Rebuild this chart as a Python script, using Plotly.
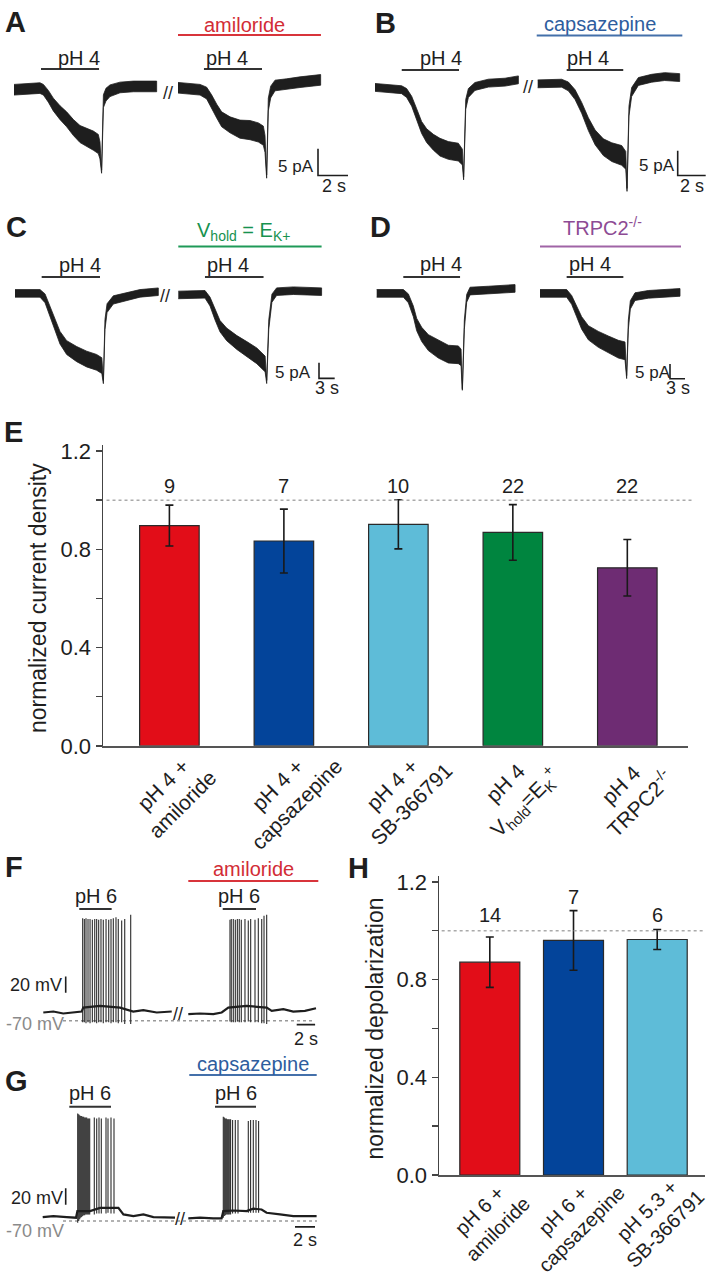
import plotly.graph_objects as go

W, H = 710, 1280
FONT = "Liberation Sans, Arial, Helvetica, sans-serif"
INK = "#1e1e1e"

# ================= bar chart data =================
E_LABELS = ["pH 4 +<br>amiloride", "pH 4 +<br>capsazepine", "pH 4 +<br>SB-366791",
            "pH 4<br>V<sub>hold</sub>=E<sub>K</sub><sup>+</sup>", "pH 4<br>TRPC2<sup>-/-</sup>"]
E_MEAN = [0.897, 0.834, 0.902, 0.869, 0.725]
E_SEM = [0.083, 0.130, 0.100, 0.113, 0.115]
E_N = ["9", "7", "10", "22", "22"]
E_COLORS = ["#e20d18", "#03449a", "#5ebcd8", "#00853f", "#6e2c73"]

H_LABELS = ["pH 6 +<br>amiloride", "pH 6 +<br>capsazepine", "pH 5.3 +<br>SB-366791"]
H_MEAN = [0.871, 0.960, 0.964]
H_SEM = [0.103, 0.122, 0.041]
H_N = ["14", "7", "6"]
H_N_Y = [1.064, 1.136, 1.064]
H_COLORS = ["#e20d18", "#03449a", "#5ebcd8"]

TICK_VALS = [0.0, 0.2, 0.4, 0.6, 0.8, 1.0, 1.2]
TICK_TEXT = ["0.0", "", "0.4", "", "0.8", "", "1.2"]

# ================= current traces (s, pA, noise half-width pA) =================
A1_T = [0, 1.73, 1.96, 2.29, 2.62, 3.07, 3.51, 3.96, 4.4, 4.84, 5.29, 5.62, 5.73, 5.84, 5.96, 6.13, 6.4, 7.07, 7.96, 9.51]
A1_I = [0, 0.31, 0, -1.23, -2.78, -4.32, -5.56, -7.1, -8.33, -8.95, -9.57, -10.2, -11.4, -15.4, -2.16, -0.93, -0.19, 0.43, 0.62, 0.62]
A1_N = [1.0, 1.0, 1.0, 1.1, 1.2, 1.3, 1.4, 1.5, 1.6, 1.7, 1.8, 1.8, 1.6, 0.3, 1.2, 1.2, 1.1, 1.0, 1.0, 1.0]
A2_T = [0, 1.47, 1.91, 2.24, 2.58, 2.91, 3.47, 4.13, 4.8, 5.36, 5.69, 5.8, 5.91, 6.02, 6.18, 6.47, 7.24, 8.13, 9.51]
A2_I = [0, -0.37, -0.99, -2.53, -4.38, -5.93, -6.97, -7.78, -7.96, -8.4, -9.01, -10.56, -16.7, -3.15, -0.8, 0.43, 0.68, 1.05, 1.48]
A2_N = [1.0, 1.0, 1.1, 1.2, 1.3, 1.4, 1.5, 1.7, 1.8, 1.8, 1.8, 1.6, 0.3, 1.2, 1.1, 1.0, 1.0, 1.0, 1.0]

B1_T = [0, 1.9, 2.26, 2.62, 2.98, 3.33, 3.69, 4.17, 4.64, 5.24, 5.95, 6.24, 6.33, 6.48, 6.67, 7.14, 8.1, 9.29, 10.24]
B1_I = [0.13, -0.33, -1.0, -2.67, -5.33, -8.0, -9.67, -11.0, -12.0, -12.67, -13.0, -14.0, -18.33, -3.33, -1.0, 0.33, 1.0, 1.2, 1.67]
B1_N = [0.8, 0.8, 0.9, 1.0, 1.1, 1.2, 1.4, 1.6, 1.8, 1.8, 1.8, 1.6, 0.3, 1.0, 0.9, 0.8, 0.8, 0.8, 0.8]
B2_T = [0, 1.71, 2.19, 2.67, 3.14, 3.62, 4.1, 4.69, 5.29, 6.0, 6.29, 6.38, 6.52, 6.71, 7.19, 8.14, 9.07, 10.14]
B2_I = [0, 0.13, -0.53, -2.2, -4.87, -8.2, -10.87, -12.87, -13.87, -14.53, -15.53, -21.53, -5.53, -1.67, 0.47, 1.13, 1.47, 1.27]
B2_N = [0.8, 0.8, 0.9, 1.0, 1.1, 1.3, 1.5, 1.7, 1.9, 2.0, 1.8, 0.3, 1.0, 0.9, 0.8, 0.8, 0.8, 0.8]

C1_T = [0, 4.78, 5.74, 6.69, 7.65, 8.6, 9.88, 11.8, 13.7, 15.6, 16.6, 16.9, 17.2, 17.6, 18.8, 21.4, 23.9, 27.4]
C1_I = [0, 0, -1.56, -5.73, -9.9, -14.06, -17.19, -19.27, -20.83, -21.88, -22.92, -28.13, -9.9, -4.69, -2.08, -1.04, 0, 0.52]
C1_N = [1.2, 1.2, 1.4, 1.6, 1.8, 2.0, 2.2, 2.4, 2.5, 2.5, 2.5, 0.5, 1.6, 1.4, 1.3, 1.2, 1.2, 1.2]
C2_T = [0, 5.1, 6.06, 7.01, 7.97, 9.24, 11.2, 13.1, 15.0, 16.6, 16.9, 17.3, 17.9, 18.8, 22.0, 27.4]
C2_I = [0, 0.21, -2.08, -6.25, -9.9, -12.5, -15.1, -17.2, -19.3, -21.9, -27.6, -9.4, -1.04, 1.04, 1.35, 1.04]
C2_N = [1.2, 1.2, 1.4, 1.6, 1.8, 2.0, 2.2, 2.4, 2.5, 2.5, 0.5, 1.5, 1.3, 1.2, 1.2, 1.2]

D1_T = [0, 5.33, 6.33, 7.33, 8.0, 9.0, 10.33, 12.33, 14.33, 16.33, 16.87, 17.13, 17.53, 18.0, 18.67, 22.33, 27.67]
D1_I = [0, 0, -1.67, -6.11, -10.56, -13.89, -16.67, -18.89, -20.56, -20.78, -21.67, -32.8, -10.56, -1.67, 0.78, 1.11, 1.67]
D1_N = [1.3, 1.3, 1.5, 1.8, 2.1, 2.4, 2.7, 3.0, 3.0, 3.0, 2.8, 0.5, 1.6, 1.3, 1.3, 1.3, 1.3]
D2_T = [0, 5.33, 6.33, 7.33, 8.33, 9.67, 11.67, 13.67, 15.67, 17.0, 17.33, 17.67, 18.07, 19.0, 21.67, 28.0]
D2_I = [0, 0, -2.22, -6.11, -10.0, -13.33, -15.56, -17.22, -18.89, -19.44, -28.33, -10.56, -3.89, -1.11, -0.33, 0.33]
D2_N = [1.3, 1.3, 1.5, 1.8, 2.1, 2.4, 2.7, 2.8, 3.0, 3.0, 0.5, 1.6, 1.4, 1.3, 1.3, 1.3]

# pH / drug application windows (s, per segment)
A_PH = [(1.8, 5.67), (1.73, 5.6)]
B_PH = [(1.91, 6.0), (2.07, 6.11)]
C_PH = [(5.1, 16.25), (5.1, 16.3)]
D_PH = [(5.32, 16.67), (5.33, 16.67)]
A_DRUG = (0.0, 9.53)
B_DRUG = (-0.07, 10.33)
C_DRUG = (0.0, 27.4)
D_DRUG = (0.0, 28.2)

# ================= voltage traces (s, mV) =================
F1_MT = [0, 1.09, 2.17, 3.26, 4.17, 4.35, 6.16, 8.34, 9.07, 9.78, 10.87, 12.33, 13.96]
F1_MV = [-60, -58.8, -61.2, -60, -58.8, -54, -52, -54, -56, -58.8, -57.2, -60, -58.8]
F1_SPK = [4.28, 4.46, 4.64, 4.86, 5.08, 5.33, 5.59, 5.8, 6.02, 6.27, 6.52, 6.82, 7.11, 7.36, 7.61, 7.9, 8.15, 8.52, 8.85, 9.5]
F1_PK = [55, 54, 55, 54, 54, 53, 54, 54, 53, 54, 53, 54, 53, 54, 55, 56, 54, 52, 54, 59]
F1_TR = [-72, -72, -73, -72, -73, -72, -72, -73, -72, -72, -73, -72, -72, -73, -72, -72, -73, -72, -74, -74]
F2_MT = [0, 1.27, 2.72, 3.63, 4.35, 6.35, 8.52, 9.07, 10.33, 11.41, 12.68, 13.88]
F2_MV = [-62, -61.2, -62, -60, -54, -52, -54, -58, -56, -58.8, -58, -54.8]
F2_SPK = [4.53, 4.67, 4.89, 5.11, 5.33, 5.54, 5.76, 6.16, 6.52, 6.78, 7.25, 7.61, 7.98, 8.23, 8.52]
F2_PK = [53, 54, 54, 53, 54, 54, 53, 54, 52, 54, 53, 55, 54, 58, 59]
F2_TR = [-71, -72, -72, -72, -71, -72, -72, -72, -71, -72, -72, -72, -73, -73, -74]

G1_MT = [0, 1.07, 2.4, 3.33, 3.47, 4.73, 5.73, 7.07, 7.57, 8.07, 9.07, 10.07, 11.07, 13.23]
G1_MV = [-65.2, -64, -65.2, -66, -58, -58, -54, -54, -54, -62, -64, -62, -65.2, -66]
G1_SPK = [3.5, 3.6, 3.7, 3.8, 3.9, 4.0, 4.1, 4.2, 4.3, 4.4, 4.5, 4.6, 4.7, 5.16, 5.4, 5.63, 5.86, 6.33, 6.53, 6.83, 7.13]
G1_PK = [61, 60, 59, 58, 58, 57, 57, 56, 56, 56, 55, 55, 55, 56, 55, 56, 55, 56, 55, 56, 55]
G1_TR = [-72, -70, -68, -66, -65, -64, -63, -63, -62, -62, -62, -62, -62, -62, -61, -61, -61, -61, -60, -61, -61]
G2_MT = [0, 1.17, 2.5, 3.33, 3.5, 4.5, 5.83, 6.5, 7.33, 7.83, 9.17, 10.5, 12.83]
G2_MV = [-66.8, -66, -66.8, -66.8, -58, -57.2, -58, -55, -56, -60, -62, -64, -64]
G2_SPK = [3.5, 3.6, 3.7, 3.8, 3.9, 4.0, 4.1, 4.23, 4.43, 4.7, 4.97, 6.0, 6.23, 6.5, 6.77, 7.03]
G2_PK = [57, 56, 55, 55, 54, 54, 54, 54, 53, 53, 53, 52, 53, 53, 53, 52]
G2_TR = [-66, -64, -63, -62, -62, -62, -62, -62, -61, -61, -61, -60, -60, -60, -60, -60]

F_PH = [(3.91, 7.43), (3.74, 7.36)]
G_PH = [(2.66, 6.83), (2.67, 6.77)]
F_DRUG = (0.0, 14.13)
G_DRUG = (0.1, 12.84)

# ================= layout geometry (pixels) =================
PANELS = {
    "A": dict(ax=3, box=(0, 355, 0, 195), origin=(14, 85), ppx=15.0, ppy=5.4, y0=0.0, seg2=(178, 83)),
    "B": dict(ax=4, box=(355, 710, 0, 195), origin=(375, 83.3), ppx=14.0, ppy=5.0, y0=0.0, seg2=(537.7, 79)),
    "C": dict(ax=5, box=(0, 355, 195, 390), origin=(15, 291.7), ppx=5.23, ppy=3.2, y0=0.0, seg2=(178.3, 293.3)),
    "D": dict(ax=6, box=(355, 710, 195, 390), origin=(376.7, 291.7), ppx=5.0, ppy=3.0, y0=0.0, seg2=(540, 291.7)),
    "F": dict(ax=7, box=(0, 355, 850, 1060), origin=(43.3, 1030), ppx=9.2, ppy=0.833, y0=-70.0, seg2=(188.3, None)),
    "G": dict(ax=8, box=(0, 355, 1060, 1280), origin=(42.7, 1233.3), ppx=10.0, ppy=0.833, y0=-70.0, seg2=(188.3, None)),
}

fig = go.Figure()
annotations = []
shapes = []
layout_axes = {}


def X(p, px):
    return (px - p["origin"][0]) / p["ppx"]


def Y(p, py):
    return p["y0"] + (p["origin"][1] - py) / p["ppy"]


def seg_offset(p, k):
    if k == 0:
        return 0.0, 0.0
    sx, sy = p["seg2"]
    return X(p, sx), (0.0 if sy is None else Y(p, sy) - p["y0"])


def txt(s, px, py, size, color=INK, bold=False, **kw):
    fam = "Liberation Sans, Arial, sans-serif"
    annotations.append(dict(text=("<b>%s</b>" % s) if bold else s, x=px / W, y=1 - py / H,
                            xref="paper", yref="paper", showarrow=False, xanchor="center",
                            yanchor="middle", font=dict(family=fam, size=size, color=color), **kw))


for name, p in PANELS.items():
    n = p["ax"]
    x0, x1, y0, y1 = p["box"]
    layout_axes["xaxis%d" % n] = dict(domain=[x0 / W, x1 / W], range=[X(p, x0), X(p, x1)],
                                      visible=False, anchor="y%d" % n, fixedrange=True)
    layout_axes["yaxis%d" % n] = dict(domain=[1 - y1 / H, 1 - y0 / H], range=[Y(p, y1), Y(p, y0)],
                                      visible=False, anchor="x%d" % n, fixedrange=True)


def axref(p):
    return dict(xaxis="x%d" % p["ax"], yaxis="y%d" % p["ax"])


def band(p, k, t, i, hw):
    dt, dy = seg_offset(p, k)
    xs = [v + dt for v in t] + [v + dt for v in t[::-1]]
    ys = [a + h + dy for a, h in zip(i, hw)] + [a - h + dy for a, h in zip(i[::-1], hw[::-1])]
    fig.add_trace(go.Scatter(x=xs, y=ys, mode="lines", fill="toself", fillcolor=INK,
                             line=dict(color=INK, width=0.8), hoverinfo="skip", **axref(p)))


def hline(p, k, t0, t1, py, color, width=2.0):
    dt, _ = seg_offset(p, k)
    yy = Y(p, py)
    fig.add_trace(go.Scatter(x=[t0 + dt, t1 + dt], y=[yy, yy], mode="lines",
                             line=dict(color=color, width=width), hoverinfo="skip", **axref(p)))


def scalebar(p, corner, dt_len, dy_len, width=1.6):
    cx, cy = X(p, corner[0]), Y(p, corner[1])
    fig.add_trace(go.Scatter(x=[cx, cx, cx + dt_len], y=[cy + dy_len, cy, cy], mode="lines",
                             line=dict(color=INK, width=width), hoverinfo="skip", **axref(p)))


def membrane(p, k, t, v):
    dt, _ = seg_offset(p, k)
    fig.add_trace(go.Scatter(x=[a + dt for a in t], y=v, mode="lines",
                             line=dict(color=INK, width=2.2), hoverinfo="skip", **axref(p)))


def spikes(p, k, ts, pk, tr):
    dt, _ = seg_offset(p, k)
    xs, ys = [], []
    for a, b, c in zip(ts, pk, tr):
        xs += [a + dt, a + dt, None]
        ys += [c, b, None]
    fig.add_trace(go.Scatter(x=xs, y=ys, mode="lines", line=dict(color="#2b2b2b", width=1.1),
                             hoverinfo="skip", connectgaps=False, **axref(p)))


# ---------------- current-clamp style panels A-D ----------------
RED_T, BLUE_T, GREEN_T, PURP_T = "#d22c35", "#2e5d9e", "#17924f", "#8d4b94"
RED_L, BLUE_L, GREEN_L, PURP_L = "#d8343b", "#4470aa", "#1f9a58", "#a064a6"

current_sets = [
    ("A", [(A1_T, A1_I, A1_N), (A2_T, A2_I, A2_N)], A_PH, A_DRUG, 64, 29.5, RED_L),
    ("B", [(B1_T, B1_I, B1_N), (B2_T, B2_I, B2_N)], B_PH, B_DRUG, 65, 30, BLUE_L),
    ("C", [(C1_T, C1_I, C1_N), (C2_T, C2_I, C2_N)], C_PH, C_DRUG, 275, 244, GREEN_L),
    ("D", [(D1_T, D1_I, D1_N), (D2_T, D2_I, D2_N)], D_PH, D_DRUG, 275, 244, PURP_L),
]
for name, segs, ph, drug, ph_py, drug_py, dcol in current_sets:
    p = PANELS[name]
    for k, (t, i, hw) in enumerate(segs):
        band(p, k, t, i, hw)
        hline(p, k, ph[k][0], ph[k][1], ph_py, "#333333", 2.0)
    hline(p, 1, drug[0], drug[1], drug_py, dcol, 2.0)

scalebar(PANELS["A"], (318, 172), 2.0, 5.0)
scalebar(PANELS["B"], (677.7, 172), 2.0, 5.0)
scalebar(PANELS["C"], (319, 378), 3.0, 5.0)
scalebar(PANELS["D"], (670, 378.3), 3.0, 5.0)

# ---------------- voltage panels F, G ----------------
volt_sets = [
    ("F", [(F1_MT, F1_MV, F1_SPK, F1_PK, F1_TR), (F2_MT, F2_MV, F2_SPK, F2_PK, F2_TR)], F_PH, F_DRUG,
     916.7, 888.3, RED_L, (63, 315), 65.7, 1001.7, (296.7, 1034)),
    ("G", [(G1_MT, G1_MV, G1_SPK, G1_PK, G1_TR), (G2_MT, G2_MV, G2_SPK, G2_PK, G2_TR)], G_PH, G_DRUG,
     1117.3, 1085, BLUE_L, (63, 317), 65.7, 1216.7, (295, 1239.3)),
]
for name, segs, ph, drug, ph_py, drug_py, dcol, dot_px, vb_px, vb_py, hb in volt_sets:
    p = PANELS[name]
    fig.add_trace(go.Scatter(x=[X(p, dot_px[0]), X(p, dot_px[1])], y=[-70, -70], mode="lines",
                             line=dict(color="#999999", width=1.5, dash="dot"), hoverinfo="skip", **axref(p)))
    for k, (mt, mv, st, pk, tr) in enumerate(segs):
        spikes(p, k, st, pk, tr)
        membrane(p, k, mt, mv)
        hline(p, k, ph[k][0], ph[k][1], ph_py, "#333333", 2.0)
    hline(p, 1, drug[0], drug[1], drug_py, dcol, 2.0)
    # 20 mV vertical bar
    vx, vy = X(p, vb_px), Y(p, vb_py)
    fig.add_trace(go.Scatter(x=[vx, vx], y=[vy, vy + 20], mode="lines",
                             line=dict(color=INK, width=1.6), hoverinfo="skip", **axref(p)))
    # 2 s horizontal bar
    hx, hy = X(p, hb[0]), Y(p, hb[1])
    fig.add_trace(go.Scatter(x=[hx, hx + 2.0], y=[hy, hy], mode="lines",
                             line=dict(color=INK, width=1.6), hoverinfo="skip", **axref(p)))

# ---------------- panel E and H bars ----------------
fig.add_trace(go.Bar(x=list(range(len(E_MEAN))), y=E_MEAN, width=0.52,
                     marker=dict(color=E_COLORS, line=dict(color="#2a2a2a", width=1.2)),
                     error_y=dict(type="data", array=E_SEM, visible=True, color="#1a1a1a",
                                  thickness=1.6, width=4),
                     xaxis="x", yaxis="y", hoverinfo="skip"))
fig.add_trace(go.Bar(x=list(range(len(H_MEAN))), y=H_MEAN, width=0.717,
                     marker=dict(color=H_COLORS, line=dict(color="#2a2a2a", width=1.2)),
                     error_y=dict(type="data", array=H_SEM, visible=True, color="#1a1a1a",
                                  thickness=1.6, width=4),
                     xaxis="x2", yaxis="y2", hoverinfo="skip"))

for i, s in enumerate(E_N):
    annotations.append(dict(text=s, x=i, y=1.06, xref="x", yref="y", showarrow=False,
                            xanchor="center", yanchor="middle",
                            font=dict(family=FONT, size=20, color=INK)))
for i, s in enumerate(H_N):
    annotations.append(dict(text=s, x=i, y=H_N_Y[i], xref="x2", yref="y2", showarrow=False,
                            xanchor="center", yanchor="middle",
                            font=dict(family=FONT, size=20, color=INK)))
for i, s in enumerate(E_LABELS):
    annotations.append(dict(text=s, x=i + 0.03, y=1 - 800 / H, xref="x", yref="paper", showarrow=False,
                            xanchor="center", yanchor="middle",
                            textangle=-45, align="center", font=dict(family=FONT, size=21, color=INK)))
for i, s in enumerate(H_LABELS):
    annotations.append(dict(text=s, x=i - 0.02, y=1 - 1232 / H, xref="x2", yref="paper", showarrow=False,
                            xanchor="center", yanchor="middle",
                            textangle=-45, align="center", font=dict(family=FONT, size=20, color=INK)))

shapes.append(dict(type="line", xref="x domain", yref="y", x0=0.006, x1=1.006, y0=1.0, y1=1.0,
                   line=dict(color="#aaaaaa", width=1.5, dash="dot")))
shapes.append(dict(type="line", xref="x2 domain", yref="y2", x0=0.01, x1=1.0, y0=1.0, y1=1.0,
                   line=dict(color="#aaaaaa", width=1.5, dash="dot")))

yax_common = dict(range=[0, 1.225], tickvals=TICK_VALS, ticktext=TICK_TEXT, ticks="outside", ticklen=6,
                  tickwidth=1.5, tickcolor="#444", showline=True, linecolor="#444", linewidth=1.5,
                  zeroline=False, showgrid=False, tickfont=dict(family=FONT, size=22, color=INK),
                  fixedrange=True)
xax_common = dict(showline=True, linecolor="#555", linewidth=2, showticklabels=False, ticks="",
                  zeroline=False, showgrid=False, fixedrange=True)

layout_axes["xaxis"] = dict(domain=[103 / W, 688 / W], range=[-0.58, 4.53], anchor="y", **xax_common)
layout_axes["yaxis"] = dict(domain=[1 - 751 / H, 1 - 445.6 / H], anchor="x", **yax_common)
layout_axes["xaxis2"] = dict(domain=[439 / W, 705 / W], range=[-0.607, 2.571], anchor="y2", **xax_common)
layout_axes["yaxis2"] = dict(domain=[1 - 1186.7 / H, 1 - 882.8 / H], anchor="x2", **yax_common)

# ---------------- texts ----------------
LET = 29
for s, px, py in [("A", 15, 16), ("B", 385, 17), ("C", 16, 224), ("D", 381, 224),
                  ("E", 13, 432), ("F", 14, 874), ("G", 16, 1091), ("H", 358, 875)]:
    txt(s, px, py, LET, bold=True)

# A
txt("pH 4", 79, 53, 20); txt("pH 4", 227, 53, 20)
txt("amiloride", 244, 19, 20, RED_T)
txt("5 pA", 296, 163, 17); txt("2 s", 334, 183, 18)
txt("//", 168, 88, 18)
# B
txt("pH 4", 441, 53, 20); txt("pH 4", 588, 53, 20)
txt("capsazepine", 600, 18, 20, BLUE_T)
txt("5 pA", 657, 162, 17); txt("2 s", 692, 183, 18)
txt("//", 528, 82, 18)
# C
txt("pH 4", 80, 263, 20); txt("pH 4", 228, 263, 20)
txt("V<sub>hold</sub> = E<sub>K+</sub>", 243, 229, 20, GREEN_T)
txt("5 pA", 293, 372, 17); txt("3 s", 327, 388, 18)
txt("//", 165, 294, 18)
# D
txt("pH 4", 441, 262, 20); txt("pH 4", 590, 262, 20)
txt("TRPC2<sup>-/-</sup>", 602, 224, 20, PURP_T)
txt("5 pA", 653, 372, 17); txt("3 s", 678, 388, 18)
# E / H titles
txt("normalized current density", 38, 601, 23, textangle=-90)
txt("normalized depolarization", 375, 1038, 23, textangle=-90)
# F
txt("pH 6", 96, 903, 20); txt("pH 6", 239, 903, 20)
txt("amiloride", 253, 876, 20, RED_T)
txt("20 mV", 36, 994, 18); txt("-70 mV", 35, 1033, 18, "#8a8a8a")
txt("2 s", 306, 1049, 18)
txt("//", 178, 1023, 18)
# G
txt("pH 6", 90, 1103, 20); txt("pH 6", 236, 1103, 20)
txt("capsazepine", 253, 1074, 20, BLUE_T)
txt("20 mV", 37, 1210, 18); txt("-70 mV", 35, 1243, 18, "#8a8a8a")
txt("2 s", 305, 1253, 18)
txt("//", 180, 1231, 18)

fig.update_layout(width=W, height=H, autosize=False, margin=dict(l=0, r=0, t=0, b=0, pad=0),
                  paper_bgcolor="white", plot_bgcolor="rgba(0,0,0,0)", showlegend=False,
                  font=dict(family=FONT, color=INK), annotations=annotations, shapes=shapes,
                  bargap=0, **layout_axes)

fig.write_html("out.html", config={"displayModeBar": False, "staticPlot": True},
               post_script="document.body.style.margin='0';document.body.style.overflow='hidden';")
